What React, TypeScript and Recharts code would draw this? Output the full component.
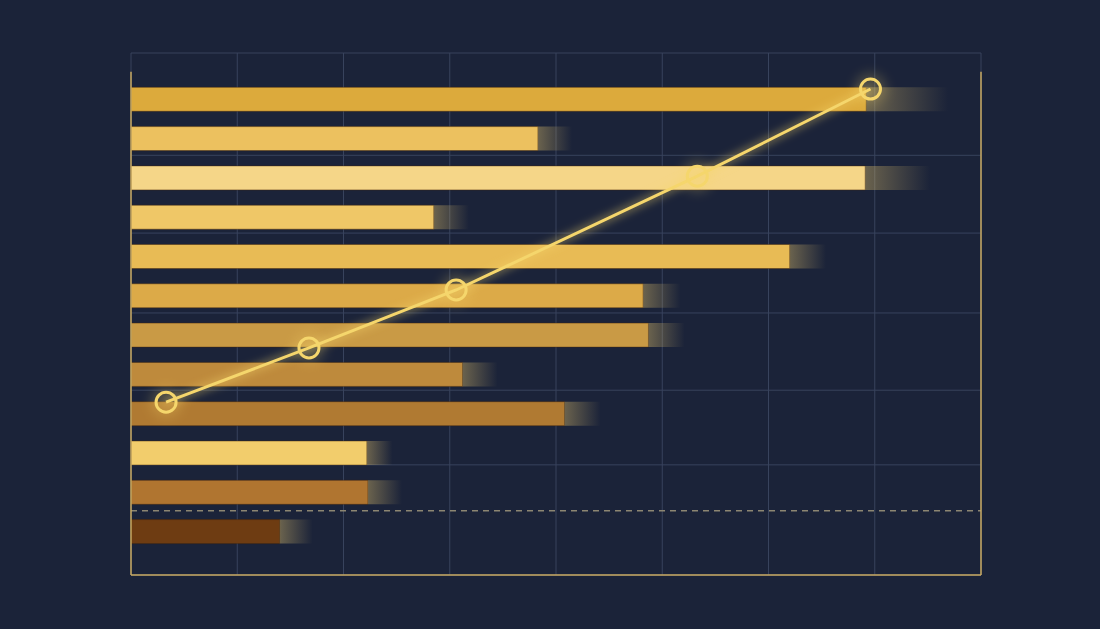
import { Bar, Cell, CartesianGrid, ComposedChart, ReferenceLine, Scatter, XAxis, YAxis } from "recharts";

document.body.style.margin = "0";
document.body.style.background = "#1b2339";

const categories = ["R1", "R2", "R3", "R4", "R5", "R6", "R7", "R8", "R9", "R10", "R11", "R12"];
const solidValues = [69.2, 38.3, 69.1, 28.5, 62.0, 48.2, 48.7, 31.2, 40.8, 22.2, 22.3, 14.0];
const tailValues = [7.7, 3.2, 6.1, 3.3, 3.4, 3.5, 3.4, 3.3, 3.4, 2.4, 3.2, 3.1];
const barColors = [
  "#dcaa3c", "#ecc15f", "#f5d688", "#efc767", "#e8bb55", "#dcaa48",
  "#c99a45", "#be8a3c", "#b07a32", "#f2cd6c", "#b07530", "#6e3c12",
];

// trend line, drawn on the hidden "grid" axis (0 = bottom, 100 = top)
const trendX = [3.3, 16.75, 30.6, 53.3, 69.6];
const trendY = [33.1, 43.5, 54.6, 76.4, 93.1];

const xTicks = [0, 10, 20, 30, 40, 50, 60, 70, 80];
const gridTicks = [0, 21.1, 35.4, 50.2, 65.5, 80.4, 96.6, 100];
const dashedLevel = 12.3;
const frameTop = 96.4;

const GOLD = "#f5d66c";
const FRAME = "#c8aa62";

const barData = categories.map((name, i) => ({ name, value: solidValues[i], tail: tailValues[i] }));
const trendData = trendX.map((x, i) => ({ x, y: trendY[i] }));

const Ring = (props: any) => {
  const { cx, cy } = props;
  return (
    <g>
      <circle cx={cx} cy={cy} r={16} fill={GOLD} opacity={0.22} filter="url(#softGlow)" />
      <circle cx={cx} cy={cy} r={10} fill="none" stroke={GOLD} strokeWidth={3} />
    </g>
  );
};

export default function App() {
  return (
    <div style={{ width: 1100, height: 629, background: "#1b2339" }}>
      <ComposedChart
        width={1100}
        height={629}
        layout="vertical"
        data={barData}
        margin={{ top: 53, left: 131, right: 119, bottom: 54 }}
      >
        <defs>
          <linearGradient id="tailFade" x1="0" y1="0" x2="1" y2="0">
            <stop offset="0%" stopColor="#d9bb6a" stopOpacity={0.42} />
            <stop offset="100%" stopColor="#d9bb6a" stopOpacity={0} />
          </linearGradient>
          <filter id="softGlow" x="-50%" y="-50%" width="200%" height="200%">
            <feGaussianBlur stdDeviation="6" />
          </filter>
          <filter id="lineGlow" x="-20%" y="-20%" width="140%" height="140%">
            <feGaussianBlur in="SourceGraphic" stdDeviation="5" result="blur" />
            <feMerge>
              <feMergeNode in="blur" />
              <feMergeNode in="SourceGraphic" />
            </feMerge>
          </filter>
        </defs>
        <CartesianGrid yAxisId="grid" stroke="#38435d" strokeWidth={1} />
        <XAxis type="number" domain={[0, 80]} ticks={xTicks} hide />
        <XAxis xAxisId="line" type="number" dataKey="x" domain={[0, 80]} hide />
        <YAxis
          yAxisId="cat"
          type="category"
          dataKey="name"
          hide
          padding={{ top: 26.3, bottom: 24.1 }}
        />
        <YAxis yAxisId="grid" type="number" dataKey="y" domain={[0, 100]} ticks={gridTicks} reversed hide />
        <Bar yAxisId="cat" dataKey="value" stackId="a" barSize={24} isAnimationActive={false}
          stroke="rgba(70,40,10,0.45)" strokeWidth={1}>
          {barData.map((d, i) => (
            <Cell key={d.name} fill={barColors[i]} />
          ))}
        </Bar>
        <Bar yAxisId="cat" dataKey="tail" stackId="a" barSize={24} fill="url(#tailFade)" isAnimationActive={false} />
        <ReferenceLine yAxisId="grid" y={dashedLevel} stroke="#8c8672" strokeDasharray="6 5" strokeWidth={1.5} />
        <ReferenceLine yAxisId="grid" segment={[{ x: 0, y: 0 }, { x: 0, y: frameTop }]} stroke={FRAME} strokeWidth={1.5} />
        <ReferenceLine yAxisId="grid" segment={[{ x: 80, y: 0 }, { x: 80, y: frameTop }]} stroke={FRAME} strokeWidth={1.5} />
        <ReferenceLine yAxisId="grid" segment={[{ x: 0, y: 0 }, { x: 80, y: 0 }]} stroke={FRAME} strokeWidth={1.5} />
        <Scatter
          xAxisId="line"
          yAxisId="grid"
          data={trendData}
          line={{ stroke: GOLD, strokeWidth: 3, filter: "url(#lineGlow)" }}
          shape={<Ring />}
          isAnimationActive={false}
        />
      </ComposedChart>
    </div>
  );
}
